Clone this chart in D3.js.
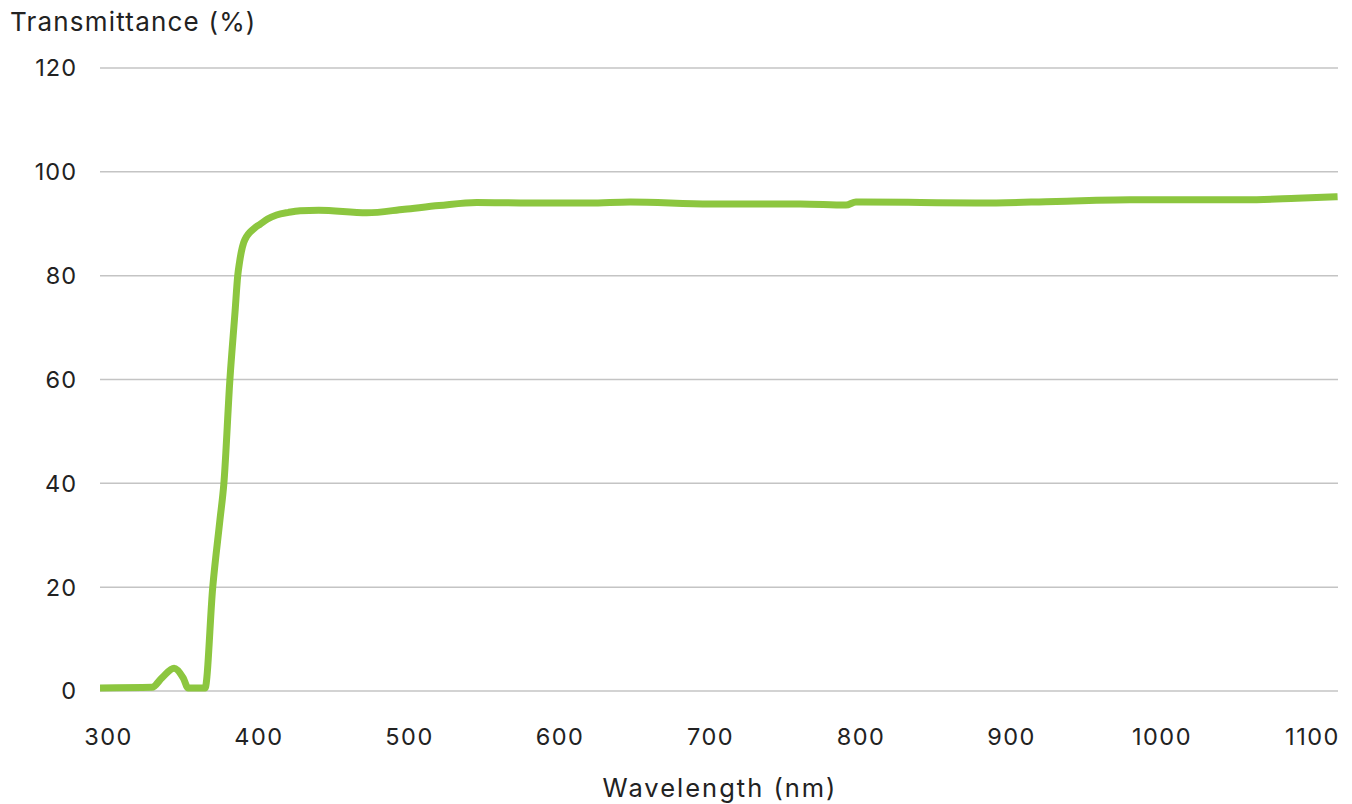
<!DOCTYPE html>
<html>
<head>
<meta charset="utf-8">
<script src="https://cdn.jsdelivr.net/npm/d3@7"></script>
<style>
  html, body { margin: 0; padding: 0; background: #fff; }
  svg { display: block; }
  text { font-family: Inter, "Open Sans", sans-serif; fill: #222; }
</style>
</head>
<body>
<svg id="chart" width="1352" height="804"></svg>
<script>
const wavelengths = [294.7, 329.2, 336, 343.9, 350, 353.2, 358, 364.5, 369.6, 374.4, 377, 381, 384.4, 386.2, 387.4, 388.6, 390.2, 392.2, 394.4, 397.5, 401, 406, 412, 420, 427.6, 440, 472, 497, 520, 545, 580, 620, 647, 700, 760, 790.4, 797, 840, 879.4, 930, 979, 1020, 1055.5, 1090, 1117];
const transmittance = [0.6, 0.7, 2.6, 4.4, 2.5, 0.6, 0.6, 0.6, 20, 33, 40, 60, 73, 80, 82.6, 84.6, 86.4, 87.6, 88.4, 89.2, 89.9, 90.9, 91.7, 92.2, 92.5, 92.6, 92.1, 92.8, 93.5, 94.1, 94.0, 94.0, 94.2, 93.8, 93.8, 93.6, 94.2, 94.1, 94.0, 94.3, 94.6, 94.6, 94.6, 94.9, 95.2];
const xTicks = [300, 400, 500, 600, 700, 800, 900, 1000, 1100];
const yTicks = [0, 20, 40, 60, 80, 100, 120];

const svg = d3.select("#chart");
const x = d3.scaleLinear().domain([300, 1100]).range([108, 1312]);
const y = d3.scaleLinear().domain([0, 120]).range([691, 68]);
const gridLeft = 100, gridRight = 1338;

// gridlines
svg.append("g").selectAll("line").data(yTicks).join("line")
  .attr("x1", gridLeft).attr("x2", gridRight)
  .attr("y1", d => y(d)).attr("y2", d => y(d))
  .attr("stroke", "#c4c4c4").attr("stroke-width", 1.5);

// y tick labels
svg.append("g").selectAll("text").data(yTicks).join("text")
  .attr("x", 77).attr("y", d => y(d)).attr("dy", "0.36em")
  .attr("text-anchor", "end").attr("font-size", 23.5)
  .attr("letter-spacing", 1).text(d => d);

// x tick labels
svg.append("g").selectAll("text").data(xTicks).join("text")
  .attr("x", d => x(d) + 0.5).attr("y", 745)
  .attr("text-anchor", "middle").attr("font-size", 23.5)
  .attr("letter-spacing", 1.5).text(d => d);

// axis titles
svg.append("text").attr("x", 10).attr("y", 31).attr("font-size", 26)
  .attr("letter-spacing", 1.2).text("Transmittance (%)");
svg.append("text").attr("x", 720).attr("y", 797).attr("text-anchor", "middle")
  .attr("font-size", 25.5).attr("letter-spacing", 2).text("Wavelength (nm)");

// line
const data = wavelengths.map((w, i) => [w, transmittance[i]]);
const line = d3.line().x(d => x(d[0])).y(d => y(d[1])).curve(d3.curveMonotoneX);
svg.append("path").datum(data)
  .attr("d", line).attr("fill", "none")
  .attr("stroke", "#8cc63f").attr("stroke-width", 7)
  .attr("stroke-linejoin", "round");
</script>
</body>
</html>
